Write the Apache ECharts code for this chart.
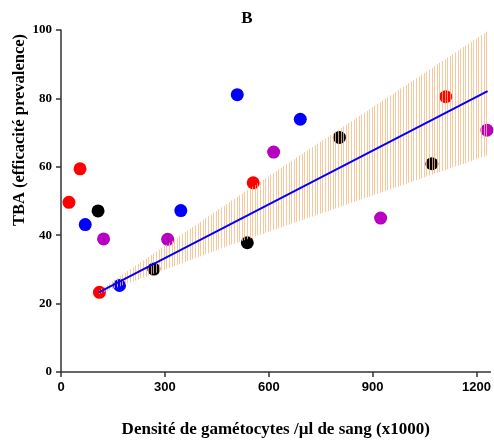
<!DOCTYPE html>
<html><head><meta charset="utf-8">
<script src="https://cdn.jsdelivr.net/npm/echarts@6/dist/echarts.min.js"></script>
<style>html,body{margin:0;padding:0;background:#fff}#c{width:494px;height:443px}</style>
</head><body><div id="c"></div>
<script>
// ---- data ----
const redPts = [[23, 49.6], [55, 59.4], [111, 23.3], [555, 55.3], [1111, 80.5]];
const bluePts = [[70, 43.1], [169, 25.3], [346, 47.2], [509, 81.1], [691, 73.9]];
const blackPts = [[107, 47.1], [268, 30.1], [538, 37.8], [804, 68.6], [1071, 60.9]];
const magentaPts = [[123, 38.9], [308, 38.8], [614, 64.3], [923, 45.0], [1230, 70.7]];
const fitX = [109, 1232];
const fitY = [23.3, 82.1];
const bandX = [109, 491, 1232];
const bandUpper = [23.9, 50.1, 99.8];
const bandLower = [22.8, 37.2, 63.4];
const xTicks = [0, 300, 600, 900, 1200];
const yTicks = [0, 20, 40, 60, 80, 100];
const yTitle = 'TBA (efficacité prevalence)';
const xTitle = 'Densité de gamétocytes /µl de sang (x1000)';

const chart = echarts.init(document.getElementById('c'), null, {renderer: 'canvas'});

function interp(px, pts) {
  for (let i = 0; i < pts.length - 1; i++) {
    const a = pts[i], b = pts[i + 1];
    if (px >= a[0] && px <= b[0]) {
      const t = (px - a[0]) / (b[0] - a[0] || 1);
      return a[1] + t * (b[1] - a[1]);
    }
  }
  return pts[pts.length - 1][1];
}

const serif = 'Liberation Serif, Times New Roman, serif';
const sans = 'Liberation Sans, Arial, sans-serif';

function scatter(name, data, color) {
  return {
    type: 'scatter', name, data, symbolSize: 13, clip: false, z: 2,
    itemStyle: {color: color, opacity: 1}
  };
}

chart.setOption({
  animation: false,
  backgroundColor: '#fff',
  title: {
    text: 'B', left: 'center', top: 5,
    textStyle: {fontFamily: serif, fontWeight: 'bold', fontSize: 17, color: '#000'}
  },
  graphic: [{
    type: 'text', left: 11, top: 'middle', z: 10,
    x: 20, y: 130, rotation: Math.PI / 2,
    style: {
      text: yTitle, fontFamily: serif, fontWeight: 'bold', fontSize: 16.5,
      fill: '#000', align: 'center', verticalAlign: 'middle'
    },
    position: [20, 130], left: null, top: null
  }],
  grid: {left: 61, top: 30, width: 432, height: 347, containLabel: false},
  xAxis: {
    type: 'value', min: 0, max: 1240, interval: 300,
    name: xTitle,
    nameLocation: 'middle', nameGap: 49,
    nameTextStyle: {fontFamily: serif, fontWeight: 'bold', fontSize: 17, color: '#000'},
    axisLine: {onZero: false, lineStyle: {color: '#333', width: 1.5}},
    axisTick: {show: true, length: 5, customValues: xTicks, lineStyle: {color: '#333', width: 1.5}},
    axisLabel: {customValues: xTicks, margin: 9, fontFamily: sans, fontWeight: 'bold', fontSize: 13, color: '#000',
      formatter: v => String(v)},
    splitLine: {show: false}
  },
  yAxis: {
    type: 'value', min: 0, max: 100, interval: 20,
    axisLine: {show: true, onZero: false, lineStyle: {color: '#333', width: 1.5}},
    axisTick: {show: true, length: 5, customValues: yTicks, lineStyle: {color: '#333', width: 1.5}},
    axisLabel: {customValues: yTicks, margin: 9, fontFamily: serif, fontWeight: 'bold', fontSize: 13, color: '#000',
      formatter: v => String(v)},
    splitLine: {show: false}
  },
  series: [
    scatter('red', redPts, '#ff0000'),
    scatter('blue', bluePts, '#0000ff'),
    scatter('black', blackPts, '#000000'),
    scatter('magenta', magentaPts, '#b800c0'),
    {
      type: 'custom', name: 'band', z: 3, silent: true, clip: false,
      data: [[0]],
      renderItem: function (params, api) {
        const up = bandX.map((x, i) => api.coord([x, bandUpper[i]]));
        const lo = bandX.map((x, i) => api.coord([x, bandLower[i]]));
        const x0 = up[0][0], x1 = up[up.length - 1][0];
        const children = [];
        for (let px = x0; px <= x1 + 0.01; px += 2.6) {
          const yu = interp(px, up), yl = interp(px, lo);
          const sx = Math.round(px) + 0.5;
          children.push({
            type: 'line',
            shape: {x1: sx, y1: yu, x2: sx, y2: yl},
            style: {stroke: 'rgba(246,185,130,0.8)', lineWidth: 1}
          });
        }
        return {type: 'group', children};
      }
    },
    {
      type: 'line', name: 'fit', z: 4, showSymbol: false, symbol: 'none',
      data: fitX.map((x, i) => [x, fitY[i]]),
      lineStyle: {color: '#0000ff', width: 2}
    }
  ]
});
</script>
</body></html>
